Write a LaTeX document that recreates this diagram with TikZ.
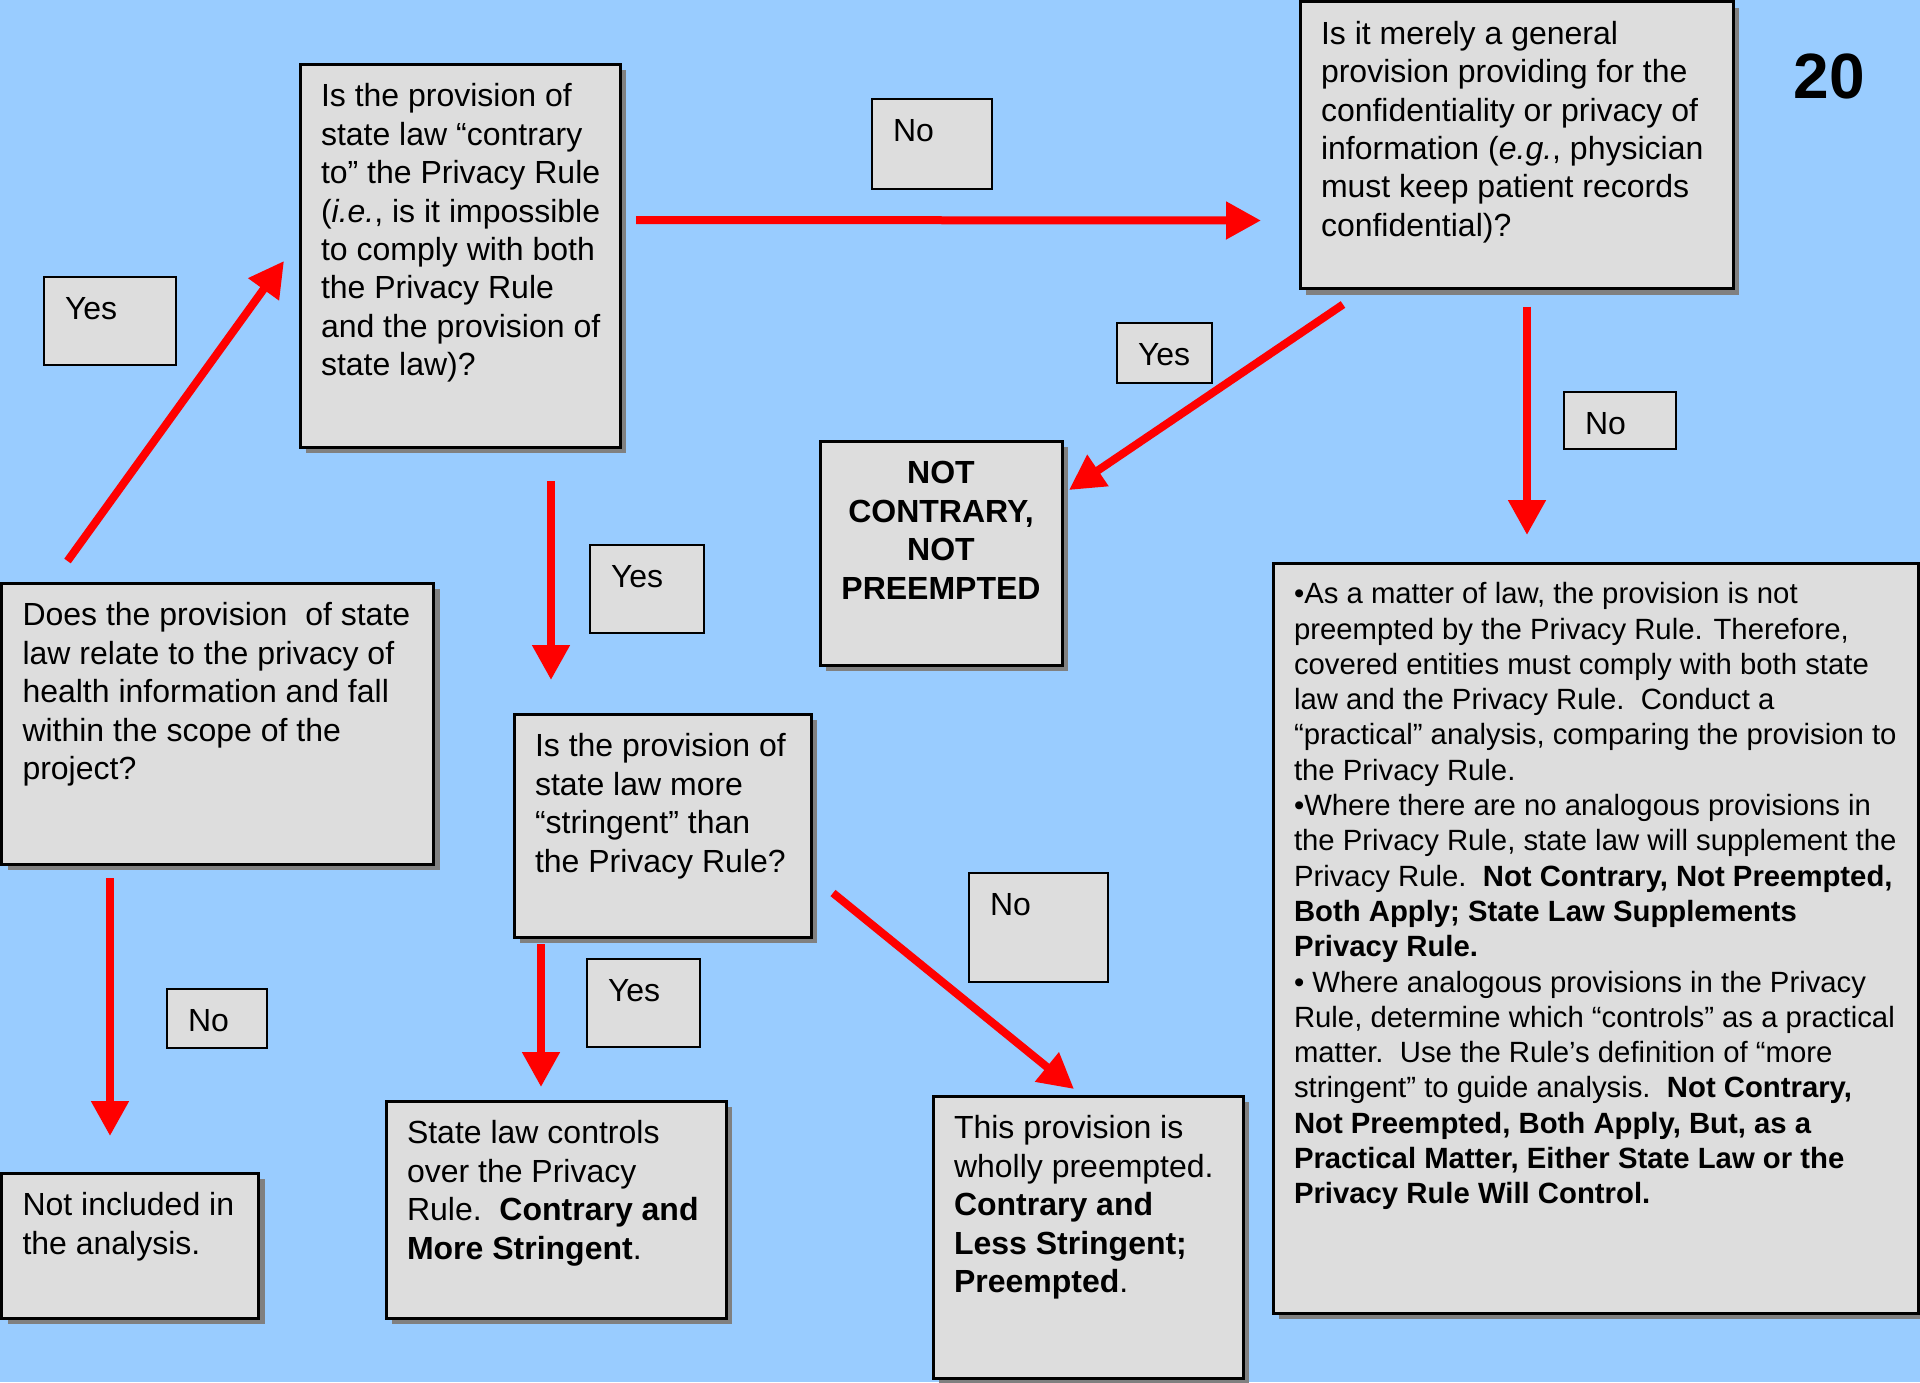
\documentclass[tikz,border=0pt]{standalone}
\usepackage{fontspec}
\setmainfont{Liberation Sans}
\usetikzlibrary{arrows.meta,calc,shadows}
\definecolor{bgblue}{HTML}{99CCFF}
\definecolor{boxgray}{HTML}{DDDDDD}
\definecolor{shadowgray}{HTML}{808080}
\definecolor{arrowred}{HTML}{FF0000}
\newcommand\mybx[3]{\parbox[c][#2][t]{#1}{\vspace*{16pt}\hspace*{21pt}\begin{tabular}[t]{@{}l@{}}#3\end{tabular}}}
\newcommand\mybxc[3]{\parbox[c][#2][t]{#1}{\vspace*{16pt}\centering\begin{tabular}[t]{@{}c@{}}#3\end{tabular}\par}}
\tikzset{
  mainbox/.style={draw=black, line width=3pt, fill=boxgray, inner sep=0pt, outer sep=0pt,
    anchor=north west, drop shadow={shadow xshift=6pt, shadow yshift=-6pt, fill=shadowgray, opacity=1},
    font=\fontsize{32}{38.4}\selectfont},
  lblbox/.style={draw=black, line width=2pt, fill=boxgray, inner sep=0pt, outer sep=0pt,
    anchor=north west, font=\fontsize{32}{38.4}\selectfont},
  arr/.style={draw=arrowred, line width=8pt, -{Triangle[length=35pt,width=36pt]}}
}
\begin{document}
\begin{tikzpicture}[x=1pt,y=-1pt]
\useasboundingbox (0,0) rectangle (1920,1382);
\fill[bgblue] (0,0) rectangle (1920,1382);

% main boxes
\node[mainbox] (q1) at (1.5,583) {\mybx{432pt}{281pt}{Does the provision\ \ of state\\law relate to the privacy of\\health information and fall\\within the scope of the\\project?}};
\node[mainbox] (q2) at (300,64) {\mybx{320pt}{383pt}{Is the provision of\\state law “contrary\\to” the Privacy Rule\\(\textit{i.e.}, is it impossible\\to comply with both\\the Privacy Rule\\and the provision of\\state law)?}};
\node[mainbox] (q3) at (1300,1.5) {\mybx{433pt}{287pt}{Is it merely a general\\provision providing for the\\confidentiality or privacy of\\information (\textit{e.g.}, physician\\must keep patient records\\confidential)?}};
\node[mainbox, font=\fontsize{32}{38.4}\selectfont\bfseries] (notc) at (820,441) {\mybxc{242pt}{224pt}{NOT\\CONTRARY,\\NOT\\PREEMPTED}};
\node[mainbox, font=\fontsize{29.3}{35.3}\selectfont] (big) at (1273,563) {\mybx{645pt}{750pt}{•As a matter of law, the provision is not\\preempted by the Privacy Rule. Therefore,\\covered entities must comply with both state\\law and the Privacy Rule.\ \ Conduct a\\“practical” analysis, comparing the provision to\\the Privacy Rule.\\•Where there are no analogous provisions in\\the Privacy Rule, state law will supplement the\\Privacy Rule.\ \ \textbf{Not Contrary, Not Preempted,}\\\textbf{Both Apply; State Law Supplements}\\\textbf{Privacy Rule.}\\• Where analogous provisions in the Privacy\\Rule, determine which “controls” as a practical\\matter.\ \ Use the Rule’s definition of “more\\stringent” to guide analysis.\ \ \textbf{Not Contrary,}\\\textbf{Not Preempted, Both Apply, But, as a}\\\textbf{Practical Matter, Either State Law or the}\\\textbf{Privacy Rule Will Control.}}};
\node[mainbox] (q4) at (514,714) {\mybx{297pt}{223pt}{Is the provision of\\state law more\\“stringent” than\\the Privacy Rule?}};
\node[mainbox] (slc) at (386,1101) {\mybx{340pt}{217pt}{State law controls\\over the Privacy\\Rule.\ \ \textbf{Contrary and}\\\textbf{More Stringent}.}};
\node[mainbox] (wp) at (933,1096) {\mybx{310pt}{282pt}{This provision is\\wholly preempted.\\\textbf{Contrary and}\\\textbf{Less Stringent;}\\\textbf{Preempted}.}};
\node[mainbox] (ni) at (1.5,1173) {\mybx{257pt}{145pt}{Not included in\\the analysis.}};

% labels
\node[lblbox] (yes1) at (44,277) {\mybx{132pt}{88pt}{Yes}};
\node[lblbox] (no1) at (872,99) {\mybx{120pt}{90pt}{No}};
\node[lblbox] (yes2) at (1117,323) {\mybx{95pt}{60pt}{Yes}};
\node[lblbox] (no2) at (1564,392) {\mybx{112pt}{57pt}{No}};
\node[lblbox] (yes3) at (590,545) {\mybx{114pt}{88pt}{Yes}};
\node[lblbox] (yes4) at (587,959) {\mybx{113pt}{88pt}{Yes}};
\node[lblbox] (no3) at (167,989) {\mybx{100pt}{59pt}{No}};
\node[lblbox] (no4) at (969,873) {\mybx{139pt}{109pt}{No}};

\node[font=\fontsize{64}{70}\selectfont\bfseries] (pagenum) at (1829,76) {20};

% arrows
\draw[arr] ($(q1.north west)+(66,-22)$) -- ($(q2.north west)+(-16,197)$);
\draw[arr] ($(q2.north east)+(16,156)$) -- ($(q3.north west)+(-39,219)$);
\draw[arr] ($(q3.south west)+(43,16)$) -- ($(notc.north east)+(7,49)$);
\draw[arr] ($(q3.south west)+(227,18)$) -- ($(big.north west)+(254,-28)$);
\draw[arr] ($(q2.south west)+(251,34)$) -- ($(q4.north west)+(37,-34)$);
\draw[arr] ($(q4.south west)+(27,7)$) -- ($(slc.north west)+(155,-14)$);
\draw[arr] ($(q4.south east)+(22,-44)$) -- ($(wp.north west)+(141,-7)$);
\draw[arr] ($(q1.south west)+(108.5,14)$) -- ($(ni.north west)+(108.5,-37)$);
\end{tikzpicture}
\end{document}
